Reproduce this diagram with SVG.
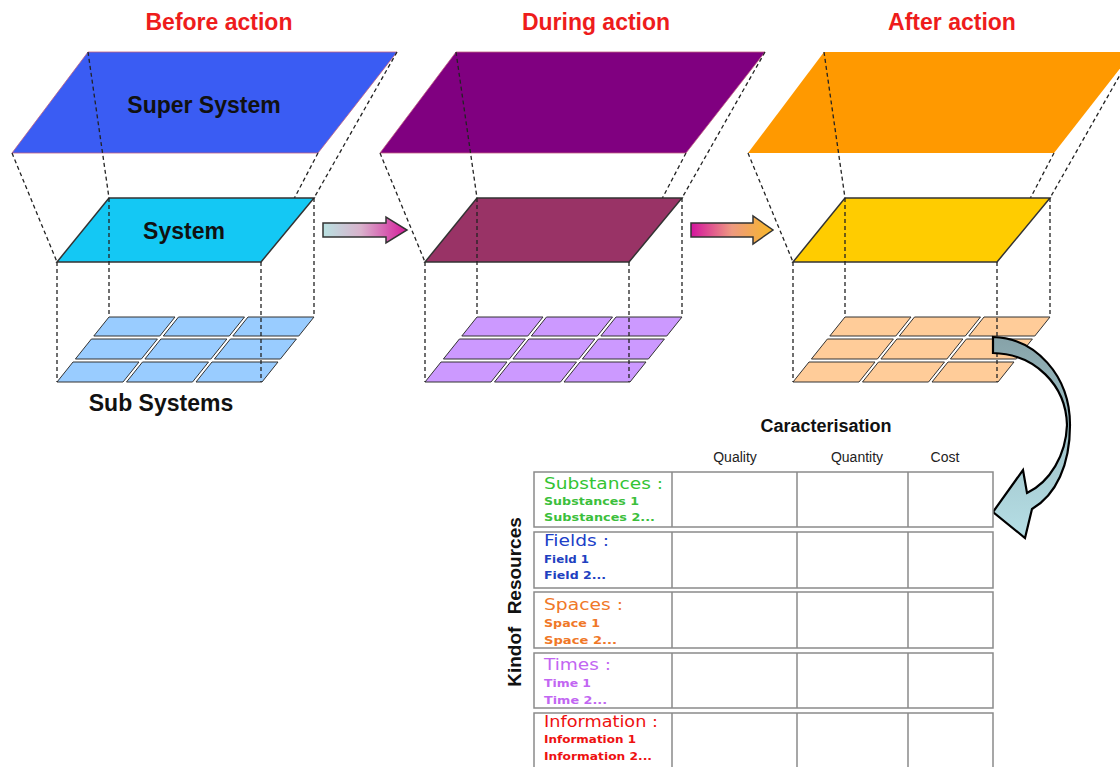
<svg xmlns="http://www.w3.org/2000/svg" xmlns:xlink="http://www.w3.org/1999/xlink" width="1120" height="767" viewBox="0 0 1120 767">
<style>
.title{font-family:"Liberation Sans",Arial,sans-serif;font-weight:bold;font-size:23px;fill:#ee1c1c;text-anchor:middle}
.plabel{font-family:"Liberation Sans",Arial,sans-serif;font-weight:bold;font-size:23px;fill:#111;text-anchor:middle}
.dash{stroke:#222;stroke-width:1.3;stroke-dasharray:4 3;fill:none}
.super{stroke:#c06080;stroke-width:0.8}
.sys{stroke:#333;stroke-width:1.5}
.cell{fill:#fff;stroke:#8a8a8a;stroke-width:1.5}
.colline{stroke:#8a8a8a;stroke-width:1.5}
.hdr{font-family:"Liberation Sans",Arial,sans-serif;font-size:14px;fill:#222;text-anchor:middle}
.cap{font-family:"Liberation Sans",Arial,sans-serif;font-weight:bold;font-size:18px;fill:#111;text-anchor:middle}
.rh{font-family:"DejaVu Sans","Liberation Sans",sans-serif;font-size:15px}
.ri{font-family:"DejaVu Sans","Liberation Sans",sans-serif;font-size:11px;font-weight:bold}
</style>
<defs>
<g id="tiles" stroke="#333" stroke-width="1">
<polygon points="0,0 66,0 50.8,19 -15.2,19"/>
<polygon points="69.5,0 135.5,0 120.3,19 54.3,19"/>
<polygon points="139,0 205,0 189.8,19 123.8,19"/>
<polygon points="-17.6,22 48.4,22 32.4,42 -33.6,42"/>
<polygon points="51.9,22 117.9,22 101.9,42 35.9,42"/>
<polygon points="121.4,22 187.4,22 171.4,42 105.4,42"/>
<polygon points="-36,45 30,45 14,65 -52,65"/>
<polygon points="33.5,45 99.5,45 83.5,65 17.5,65"/>
<polygon points="103,45 169,45 153,65 87,65"/>
</g>
<linearGradient id="g1" x1="0" y1="0" x2="1" y2="0">
<stop offset="0" stop-color="#b9e2e2"/>
<stop offset="0.45" stop-color="#d9b2cc"/>
<stop offset="1" stop-color="#d5199a"/>
</linearGradient>
<linearGradient id="g2" x1="0" y1="0" x2="1" y2="0">
<stop offset="0" stop-color="#d3149e"/>
<stop offset="0.5" stop-color="#ee9a80"/>
<stop offset="1" stop-color="#f8b826"/>
</linearGradient>
<linearGradient id="g3" gradientUnits="userSpaceOnUse" x1="0" y1="337" x2="0" y2="540">
<stop offset="0" stop-color="#86a2a8"/>
<stop offset="0.45" stop-color="#9fc2c8"/>
<stop offset="1" stop-color="#b6dfe6"/>
</linearGradient>
</defs>

<text class="title" x="219" y="30">Before action</text>
<text class="title" x="596" y="30">During action</text>
<text class="title" x="952" y="30">After action</text>

<g id="before">
<polygon class="super" fill="#3a5cf3" points="88,52 397,52 318,153 12,153"/>
<text class="plabel" x="204" y="113">Super System</text>
<g class="dash-layer">
<line class="dash" x1="12" y1="153" x2="57" y2="262"/>
<line class="dash" x1="88" y1="52" x2="109" y2="198"/>
<line class="dash" x1="397" y1="52" x2="314" y2="198"/>
<line class="dash" x1="318" y1="153" x2="261" y2="262"/>
</g>
<polygon class="sys" fill="#14c8f4" points="109,198 314,198 261,262 57,262"/>
<text class="plabel" x="184" y="239">System</text>
<use xlink:href="#tiles" href="#tiles" x="109" y="317" fill="#99ccff"/>
<line class="dash" x1="57" y1="262" x2="57" y2="382"/>
<line class="dash" x1="109" y1="198" x2="109" y2="317"/>
<line class="dash" x1="261" y1="262" x2="261" y2="382"/>
<line class="dash" x1="314" y1="198" x2="314" y2="317"/>
<text class="plabel" x="161" y="411">Sub Systems</text>
</g>

<g id="during">
<polygon class="super" fill="#800080" points="456,52 765,52 686,153 380,153"/>
<line class="dash" x1="380" y1="153" x2="425" y2="262"/>
<line class="dash" x1="456" y1="52" x2="477" y2="198"/>
<line class="dash" x1="765" y1="52" x2="682" y2="198"/>
<line class="dash" x1="686" y1="153" x2="629" y2="262"/>
<polygon class="sys" fill="#993366" points="477,198 682,198 629,262 425,262"/>
<use xlink:href="#tiles" href="#tiles" x="477" y="317" fill="#cc99ff"/>
<line class="dash" x1="425" y1="262" x2="425" y2="382"/>
<line class="dash" x1="477" y1="198" x2="477" y2="317"/>
<line class="dash" x1="629" y1="262" x2="629" y2="382"/>
<line class="dash" x1="682" y1="198" x2="682" y2="317"/>
</g>

<g id="after">
<polygon fill="#ff9900" points="824,52 1133,52 1054,153 748,153"/>
<line class="dash" x1="748" y1="153" x2="793" y2="262"/>
<line class="dash" x1="824" y1="52" x2="845" y2="198"/>
<line class="dash" x1="1133" y1="52" x2="1050" y2="198"/>
<line class="dash" x1="1054" y1="153" x2="997" y2="262"/>
<polygon class="sys" fill="#ffcc00" points="845,198 1050,198 997,262 793,262"/>
<use xlink:href="#tiles" href="#tiles" x="845" y="317" fill="#ffcc99"/>
<line class="dash" x1="793" y1="262" x2="793" y2="382"/>
<line class="dash" x1="845" y1="198" x2="845" y2="317"/>
<line class="dash" x1="997" y1="262" x2="997" y2="382"/>
<line class="dash" x1="1050" y1="198" x2="1050" y2="317"/>
</g>

<g id="connectors">
<polygon fill="url(#g1)" stroke="#333" stroke-width="1.5" stroke-linejoin="miter" points="323,223 386,223 386,217 407,230 386,243 386,237 323,237"/>
<polygon fill="url(#g2)" stroke="#333" stroke-width="1.5" points="691,223 753,223 753,216 773,230 753,244 753,237 691,237"/>
<path fill="url(#g3)" stroke="#000" stroke-width="2.2" stroke-linejoin="miter" d="M993,337 C1035,338 1070,375 1070,425 C1070,465 1056,495 1032,509 L1025,538 L993,512 L1023,470 L1027,493 C1050,482 1066,455 1067,425 C1066,385 1035,354 993,353 Z"/>
</g>

<g id="table">
<text class="cap" x="826" y="432">Caracterisation</text>
<text class="hdr" x="735" y="462">Quality</text>
<text class="hdr" x="857" y="462">Quantity</text>
<text class="hdr" x="945" y="462">Cost</text>
<text font-family="Liberation Sans,Arial,sans-serif" font-weight="bold" font-size="19" fill="#111" text-anchor="middle" transform="translate(521,602) rotate(-90)">Kindof <tspan dx="7">Resources</tspan></text>

<g id="row-substances">
<rect class="cell" x="534" y="472" width="459" height="55"/>
<line class="colline" x1="672" y1="472" x2="672" y2="527"/>
<line class="colline" x1="797" y1="472" x2="797" y2="527"/>
<line class="colline" x1="908" y1="472" x2="908" y2="527"/>
<text class="rh" x="544" y="489" fill="#33c433" textLength="119" lengthAdjust="spacingAndGlyphs">Substances :</text>
<text class="ri" x="544" y="505" fill="#3cbf3c" textLength="95" lengthAdjust="spacingAndGlyphs">Substances 1</text>
<text class="ri" x="544" y="521" fill="#3cbf3c" textLength="111" lengthAdjust="spacingAndGlyphs">Substances 2...</text>
</g>
<g id="row-fields">
<rect class="cell" x="534" y="532" width="459" height="56"/>
<line class="colline" x1="672" y1="532" x2="672" y2="588"/>
<line class="colline" x1="797" y1="532" x2="797" y2="588"/>
<line class="colline" x1="908" y1="532" x2="908" y2="588"/>
<text class="rh" x="544" y="546" fill="#2040c8" textLength="65" lengthAdjust="spacingAndGlyphs">Fields :</text>
<text class="ri" x="544" y="563" fill="#2040c0" textLength="45" lengthAdjust="spacingAndGlyphs">Field 1</text>
<text class="ri" x="544" y="579" fill="#2040c0" textLength="62" lengthAdjust="spacingAndGlyphs">Field 2...</text>
</g>
<g id="row-spaces">
<rect class="cell" x="534" y="592" width="459" height="56"/>
<line class="colline" x1="672" y1="592" x2="672" y2="648"/>
<line class="colline" x1="797" y1="592" x2="797" y2="648"/>
<line class="colline" x1="908" y1="592" x2="908" y2="648"/>
<text class="rh" x="544" y="610" fill="#f07828" textLength="79" lengthAdjust="spacingAndGlyphs">Spaces :</text>
<text class="ri" x="544" y="627" fill="#f07828" textLength="56" lengthAdjust="spacingAndGlyphs">Space 1</text>
<text class="ri" x="544" y="644" fill="#f07828" textLength="73" lengthAdjust="spacingAndGlyphs">Space 2...</text>
</g>
<g id="row-times">
<rect class="cell" x="534" y="653" width="459" height="55"/>
<line class="colline" x1="672" y1="653" x2="672" y2="708"/>
<line class="colline" x1="797" y1="653" x2="797" y2="708"/>
<line class="colline" x1="908" y1="653" x2="908" y2="708"/>
<text class="rh" x="544" y="670" fill="#c266f2" textLength="67" lengthAdjust="spacingAndGlyphs">Times :</text>
<text class="ri" x="544" y="687" fill="#c266f2" textLength="47" lengthAdjust="spacingAndGlyphs">Time 1</text>
<text class="ri" x="544" y="704" fill="#c266f2" textLength="63" lengthAdjust="spacingAndGlyphs">Time 2...</text>
</g>
<g id="row-information">
<rect class="cell" x="534" y="713" width="459" height="62"/>
<line class="colline" x1="672" y1="713" x2="672" y2="775"/>
<line class="colline" x1="797" y1="713" x2="797" y2="775"/>
<line class="colline" x1="908" y1="713" x2="908" y2="775"/>
<text class="rh" x="544" y="727" fill="#ee1111" textLength="114" lengthAdjust="spacingAndGlyphs">Information :</text>
<text class="ri" x="544" y="743" fill="#ee1111" textLength="92" lengthAdjust="spacingAndGlyphs">Information 1</text>
<text class="ri" x="544" y="760" fill="#ee1111" textLength="108" lengthAdjust="spacingAndGlyphs">Information 2...</text>
</g>
</g>
</svg>
